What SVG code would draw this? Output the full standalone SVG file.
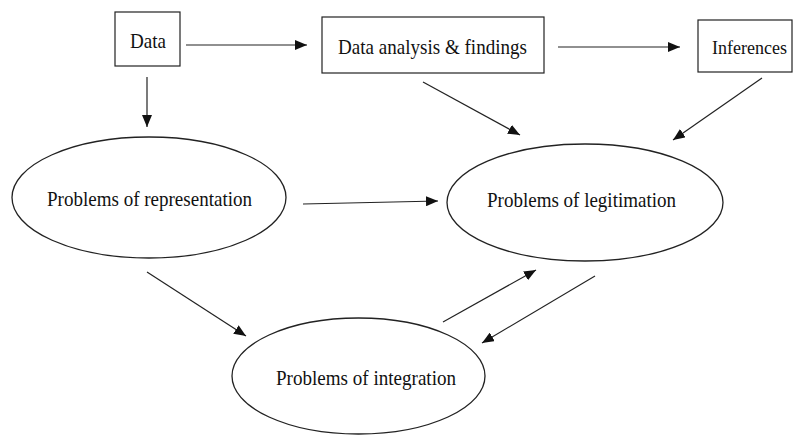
<svg xmlns="http://www.w3.org/2000/svg" width="795" height="435" viewBox="0 0 795 435">
  <style>
    .box { fill: #ffffff; stroke: #222222; stroke-width: 1.2; }
    .oval { fill: #ffffff; stroke: #222222; stroke-width: 1.3; }
    .label { font-family: "Liberation Serif", "Times New Roman", serif; font-size: 21px; fill: #111111; }
    .link { stroke: #222222; stroke-width: 1.2; fill: none; marker-end: url(#head); }
  </style>
  <defs>
    <marker id="head" markerUnits="userSpaceOnUse" markerWidth="13" markerHeight="10" refX="12" refY="5" orient="auto">
      <path d="M0,0 L12,5 L0,10 Z" fill="#111111"/>
    </marker>
  </defs>
  <rect width="795" height="435" fill="#ffffff"/>

  <g id="node-data">
    <rect class="box" x="115" y="12" width="65" height="54"/>
    <text class="label" x="130" y="48" textLength="36" lengthAdjust="spacingAndGlyphs">Data</text>
  </g>
  <g id="node-analysis">
    <rect class="box" x="322" y="17" width="222" height="56"/>
    <text class="label" x="338" y="54" textLength="189" lengthAdjust="spacingAndGlyphs">Data analysis &amp; findings</text>
  </g>
  <g id="node-inferences">
    <rect class="box" x="698" y="20" width="94" height="52"/>
    <text class="label" x="712" y="54" style="font-size:18px" textLength="75" lengthAdjust="spacingAndGlyphs">Inferences</text>
  </g>
  <g id="node-representation">
    <ellipse class="oval" cx="149" cy="197.5" rx="137" ry="60.5"/>
    <text class="label" x="47" y="206" textLength="205" lengthAdjust="spacingAndGlyphs">Problems of representation</text>
  </g>
  <g id="node-legitimation">
    <ellipse class="oval" cx="585" cy="202.5" rx="138" ry="58.5"/>
    <text class="label" x="487" y="207" textLength="189" lengthAdjust="spacingAndGlyphs">Problems of legitimation</text>
  </g>
  <g id="node-integration">
    <ellipse class="oval" cx="358.5" cy="376" rx="126.5" ry="58"/>
    <text class="label" x="276" y="385" textLength="180" lengthAdjust="spacingAndGlyphs">Problems of integration</text>
  </g>

  <g id="connectors">
    <line class="link" x1="186" y1="45" x2="307" y2="45"/>
    <line class="link" x1="558" y1="47" x2="680" y2="47"/>
    <line class="link" x1="147" y1="77" x2="147" y2="127"/>
    <line class="link" x1="423" y1="82" x2="520" y2="135"/>
    <line class="link" x1="762" y1="78" x2="673" y2="140"/>
    <line class="link" x1="303" y1="204" x2="438" y2="201"/>
    <line class="link" x1="147" y1="272" x2="246" y2="336"/>
    <line class="link" x1="443" y1="322" x2="536" y2="270"/>
    <line class="link" x1="595" y1="276" x2="482" y2="343"/>
  </g>
</svg>
